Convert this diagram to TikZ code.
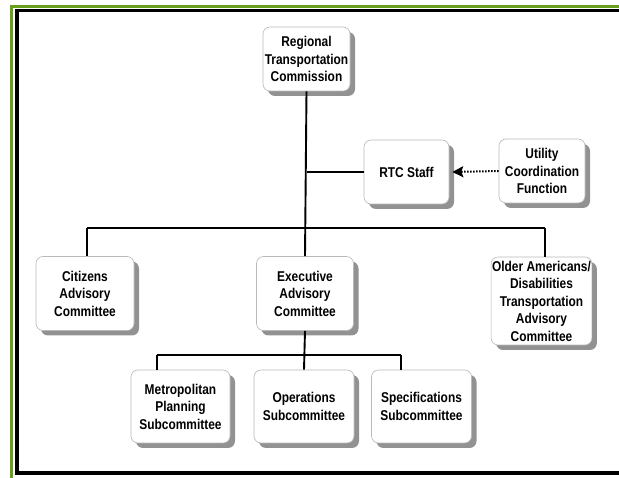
\documentclass[tikz,border=0pt]{standalone}
\usepackage{fontspec}
\setmainfont{Liberation Sans}[FakeStretch=0.84]
\usetikzlibrary{shadows,arrows.meta}
\definecolor{frameGreen}{RGB}{104,160,30}
\tikzset{
  orgbox/.style={draw=gray!55, line width=0.6pt, fill=white, rounded corners=7pt,
    align=center, inner sep=1pt, font=\fontsize{14.2}{17.5}\selectfont\bfseries,
    drop shadow={shadow xshift=5pt, shadow yshift=-5pt, fill=black!45, opacity=0.95}},
  link/.style={line width=1.9pt, black},
}
\begin{document}
\begin{tikzpicture}[x=1pt,y=-1pt]
\useasboundingbox (0,0) rectangle (619,478);
% frame
\draw[frameGreen, line width=3pt] (11.5,478) -- (11.5,6.5) -- (619,6.5);
\draw[black, line width=3.5pt] (17,473) -- (17,10.5) -- (619,10.5);
\draw[black, line width=3.5pt] (15.3,473) -- (619,473);
% nodes
\node[orgbox, minimum width=87pt, minimum height=64pt] (rtc) at (306.5,59) {Regional\\Transportation\\Commission};
\node[orgbox, minimum width=85pt, minimum height=64pt] (staff) at (406.5,172) {RTC Staff};
\node[orgbox, minimum width=86pt, minimum height=64pt] (util) at (542,171) {Utility\\Coordination\\Function};
\node[orgbox, minimum width=98pt, minimum height=74pt] (cit) at (85,293.5) {Citizens\\Advisory\\Committee};
\node[orgbox, minimum width=97pt, minimum height=74pt] (exec) at (305,293.5) {Executive\\Advisory\\Committee};
\node[orgbox, minimum width=97pt, minimum height=88pt] (older) at (541.5,301) {Older Americans/\\Disabilities\\Transportation\\Advisory\\Committee};
\node[orgbox, minimum width=99pt, minimum height=73pt] (metro) at (180.5,406.5) {Metropolitan\\Planning\\Subcommittee};
\node[orgbox, minimum width=100pt, minimum height=73pt] (ops) at (304,406.5) {Operations\\Subcommittee};
\node[orgbox, minimum width=100pt, minimum height=73pt] (spec) at (421.5,406.5) {Specifications\\Subcommittee};
% connector points
\coordinate (barL) at (87,228);
\coordinate (barR) at (545,228);
\coordinate (sbarL) at (156.7,355);
\coordinate (sbarR) at (401,355);
% connectors
\draw[link] (rtc.south) -- (exec.north);
\draw[link] (rtc.south |- staff.west) -- (staff.west);
\draw[link] (barL) -- (barR);
\draw[link] (barL) -- (barL |- cit.north);
\draw[link] (barR) -- (barR |- older.north);
\draw[link] (exec.south) -- (ops.north);
\draw[link] (sbarL) -- (sbarR);
\draw[link] (sbarL) -- (sbarL |- metro.north);
\draw[link] (sbarR) -- (sbarR |- spec.north);
\draw[line width=2pt, dash pattern=on 1.6pt off 1.4pt, -{Stealth[length=11pt,width=11pt,inset=2pt]}] (util.west) -- ([xshift=3pt]staff.east);
\end{tikzpicture}
\end{document}
